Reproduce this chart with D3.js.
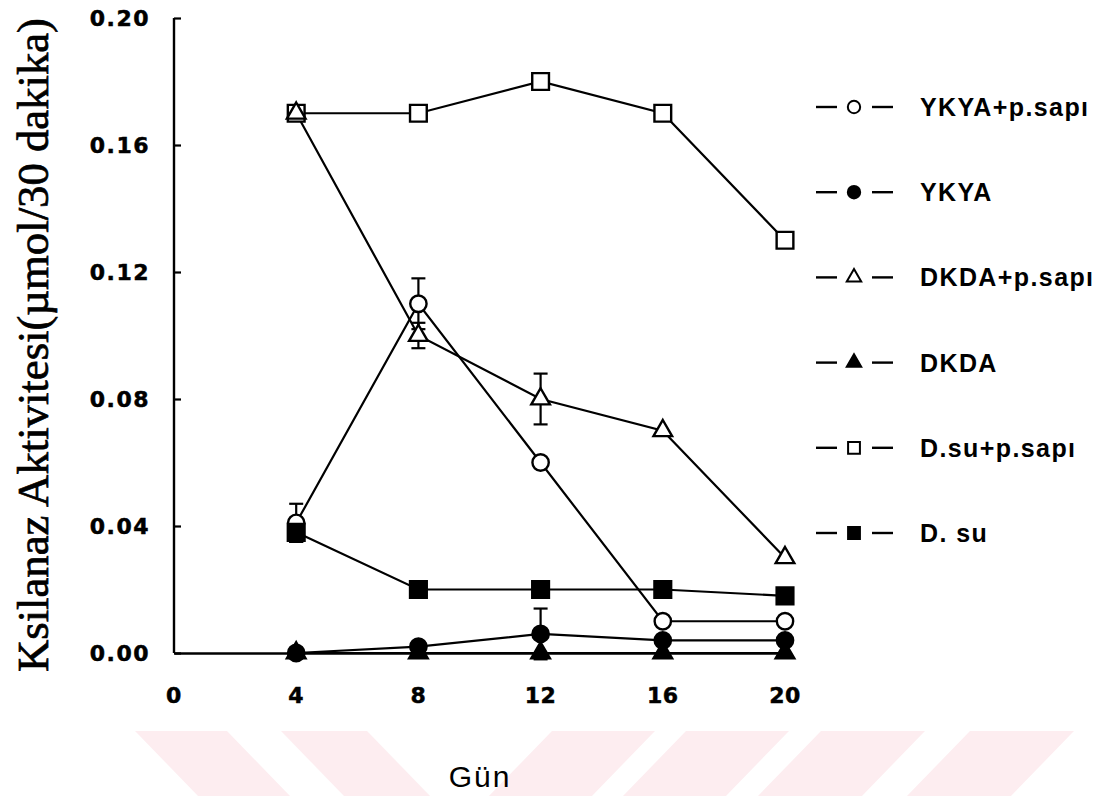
<!DOCTYPE html>
<html>
<head>
<meta charset="utf-8">
<script src="https://cdn.jsdelivr.net/npm/d3@7"></script>
<style>
  html, body { margin: 0; padding: 0; background: #fff; }
  svg { display: block; }
</style>
</head>
<body>
<svg id="chart" width="1110" height="796"></svg>
<script>
// Xylanase activity over incubation days
const days = [4, 8, 12, 16, 20];
const xTicks = [0, 4, 8, 12, 16, 20];
const yTicks = [0, 0.04, 0.08, 0.12, 0.16, 0.20];

const seriesNames = ["YKYA+p.sapı", "YKYA", "DKDA+p.sapı", "DKDA", "D.su+p.sapı", "D. su"];
const ykyaSapi    = [0.041, 0.110, 0.060, 0.010, 0.010];
const ykya        = [0.000, 0.002, 0.006, 0.004, 0.004];
const dkdaSapi    = [0.170, 0.100, 0.080, 0.070, 0.030];
const dkda        = [0.000, 0.000, 0.000, 0.000, 0.000];
const dsuSapi     = [0.170, 0.170, 0.180, 0.170, 0.130];
const dsu         = [0.038, 0.020, 0.020, 0.020, 0.018];

// standard errors (0 = no bar drawn)
const ykyaSapiErr = [0.006, 0.008, 0, 0, 0];
const ykyaErr     = [0, 0, 0.008, 0, 0];
const dkdaSapiErr = [0, 0.004, 0.008, 0, 0];
const dsuErr      = [0.003, 0, 0, 0, 0];

const series = [
  { name: seriesNames[0], values: ykyaSapi, err: ykyaSapiErr, shape: "circle",   filled: false, z: 1 },
  { name: seriesNames[1], values: ykya,     err: ykyaErr,     shape: "circle",   filled: true,  z: 4 },
  { name: seriesNames[2], values: dkdaSapi, err: dkdaSapiErr, shape: "triangle", filled: false, z: 2 },
  { name: seriesNames[3], values: dkda,     err: null,        shape: "triangle", filled: true,  z: 3 },
  { name: seriesNames[4], values: dsuSapi,  err: null,        shape: "square",   filled: false, z: 0 },
  { name: seriesNames[5], values: dsu,      err: dsuErr,      shape: "square",   filled: true,  z: 5 }
];

const svg = d3.select("#chart");

// faint diagonal band pattern along the bottom edge
const bands = [
  { x0: 135, w: 92, dir: 1 },
  { x0: 281, w: 86, dir: 1 },
  { x0: 552, w: 103, dir: -1 },
  { x0: 686, w: 103, dir: -1 },
  { x0: 821, w: 104, dir: -1 },
  { x0: 970, w: 104, dir: -1 }
];
const bandTop = 731, bandBottom = 800, slant = 0.97;
svg.append("g").selectAll("polygon").data(bands).join("polygon")
  .attr("fill", "#fdedf0")
  .attr("points", b => {
    const s = b.dir * slant * (bandBottom - bandTop);
    return [[b.x0, bandTop], [b.x0 + b.w, bandTop], [b.x0 + b.w + s, bandBottom], [b.x0 + s, bandBottom]]
      .map(p => p.join(",")).join(" ");
  });

const x = d3.scaleLinear().domain([0, 20]).range([174, 785]);
const y = d3.scaleLinear().domain([0, 0.20]).range([653, 18]);

const ink = "#000";
const tickFont = "'DejaVu Sans', sans-serif";

// y axis with inward ticks
const yAxis = d3.axisRight(y).tickValues(yTicks).tickSize(7).tickFormat("");
const gy = svg.append("g").attr("transform", `translate(${x(0)},0)`).call(yAxis);
gy.select(".domain").attr("d", `M0,${y(0.20)}H0V${y(0)}`).attr("stroke", ink).attr("stroke-width", 2.4);
gy.selectAll(".tick line").attr("stroke", ink).attr("stroke-width", 2.2);

svg.append("g").selectAll("text").data(yTicks).join("text")
  .attr("x", 150).attr("y", d => y(d)).attr("dy", "0.36em")
  .attr("text-anchor", "end")
  .attr("font-family", tickFont).attr("font-weight", "bold").attr("font-size", 22)
  .attr("letter-spacing", 1.5)
  .attr("stroke", ink).attr("stroke-width", 0.5)
  .text(d => d3.format(".2f")(d));

// x axis: baseline only
const xAxis = d3.axisBottom(x).tickValues(xTicks).tickSize(0).tickFormat("");
const gx = svg.append("g").attr("transform", `translate(0,${y(0)})`).call(xAxis);
gx.select(".domain").attr("stroke", ink).attr("stroke-width", 2.4);

svg.append("g").selectAll("text").data(xTicks).join("text")
  .attr("x", d => x(d)).attr("y", 695).attr("dy", "0.36em")
  .attr("text-anchor", "middle")
  .attr("font-family", tickFont).attr("font-weight", "bold").attr("font-size", 22)
  .attr("letter-spacing", 0.5)
  .attr("stroke", ink).attr("stroke-width", 0.5)
  .text(d => d);

// axis titles
svg.append("text")
  .attr("transform", `translate(48,345) rotate(-90)`)
  .attr("text-anchor", "middle")
  .attr("font-family", "'Liberation Serif', 'Times New Roman', serif")
  .attr("font-size", 44)
  .attr("stroke", ink).attr("stroke-width", 0.7)
  .attr("textLength", 654).attr("lengthAdjust", "spacingAndGlyphs")
  .text("Ksilanaz Aktivitesi(µmol/30 dakika)");

svg.append("text")
  .attr("x", 480).attr("y", 787)
  .attr("text-anchor", "middle")
  .attr("font-family", "'Liberation Sans', Arial, sans-serif")
  .attr("font-size", 30).attr("letter-spacing", 2)
  .text("Gün");

// marker shapes
const symbolType = { circle: d3.symbolCircle, square: d3.symbolSquare, triangle: d3.symbolTriangle };
const symbolSize = { circle: 210, square: 280, triangle: 150 };
const legendSize = { circle: 120, square: 140, triangle: 90 };
const marker = (shape, size) => d3.symbol().type(symbolType[shape]).size(size[shape])();

const line = d3.line().x(d => x(d[0])).y(d => y(d[1]));

const plot = svg.append("g");

// connecting lines
plot.selectAll("path.series").data(series).join("path")
  .attr("class", "series")
  .attr("fill", "none").attr("stroke", ink).attr("stroke-width", 2.2)
  .attr("d", s => line(days.map((d, i) => [d, s.values[i]])));

// error bars
const errData = [];
series.forEach(s => {
  if (!s.err) return;
  days.forEach((d, i) => { if (s.err[i] > 0) errData.push({ d, v: s.values[i], e: s.err[i] }); });
});
const eb = plot.selectAll("g.err").data(errData).join("g").attr("class", "err")
  .attr("stroke", ink).attr("stroke-width", 2.2);
eb.append("line")
  .attr("x1", e => x(e.d)).attr("x2", e => x(e.d))
  .attr("y1", e => y(e.v - e.e)).attr("y2", e => y(e.v + e.e));
eb.append("line")
  .attr("x1", e => x(e.d) - 7).attr("x2", e => x(e.d) + 7)
  .attr("y1", e => y(e.v + e.e)).attr("y2", e => y(e.v + e.e));
eb.append("line")
  .attr("x1", e => x(e.d) - 7).attr("x2", e => x(e.d) + 7)
  .attr("y1", e => y(e.v - e.e)).attr("y2", e => y(e.v - e.e));

// markers, stacked in drawing order
series.slice().sort((a, b) => a.z - b.z).forEach(s => {
  plot.append("g").selectAll("path").data(days.map((d, i) => [d, s.values[i]])).join("path")
    .attr("transform", p => `translate(${x(p[0])},${y(p[1])})`)
    .attr("d", marker(s.shape, symbolSize))
    .attr("fill", s.filled ? ink : "#fff")
    .attr("stroke", ink).attr("stroke-width", 2.4);
});

// legend
const legendY = d3.scalePoint().domain(seriesNames).range([107, 533]);
const lg = svg.append("g").selectAll("g").data(series).join("g")
  .attr("transform", s => `translate(0,${legendY(s.name)})`);
lg.append("line").attr("x1", 816).attr("x2", 837).attr("y1", 0).attr("y2", 0)
  .attr("stroke", ink).attr("stroke-width", 2.4);
lg.append("line").attr("x1", 872).attr("x2", 893).attr("y1", 0).attr("y2", 0)
  .attr("stroke", ink).attr("stroke-width", 2.4);
lg.append("path")
  .attr("transform", "translate(854,0)")
  .attr("d", s => marker(s.shape, legendSize))
  .attr("fill", s => s.filled ? ink : "#fff")
  .attr("stroke", ink).attr("stroke-width", 2);
lg.append("text")
  .attr("x", 920).attr("y", 0).attr("dy", "0.36em")
  .attr("font-family", "'Liberation Sans', Arial, sans-serif")
  .attr("font-weight", "bold").attr("font-size", 25).attr("letter-spacing", 1.4)
  .text(s => s.name);
</script>
</body>
</html>
